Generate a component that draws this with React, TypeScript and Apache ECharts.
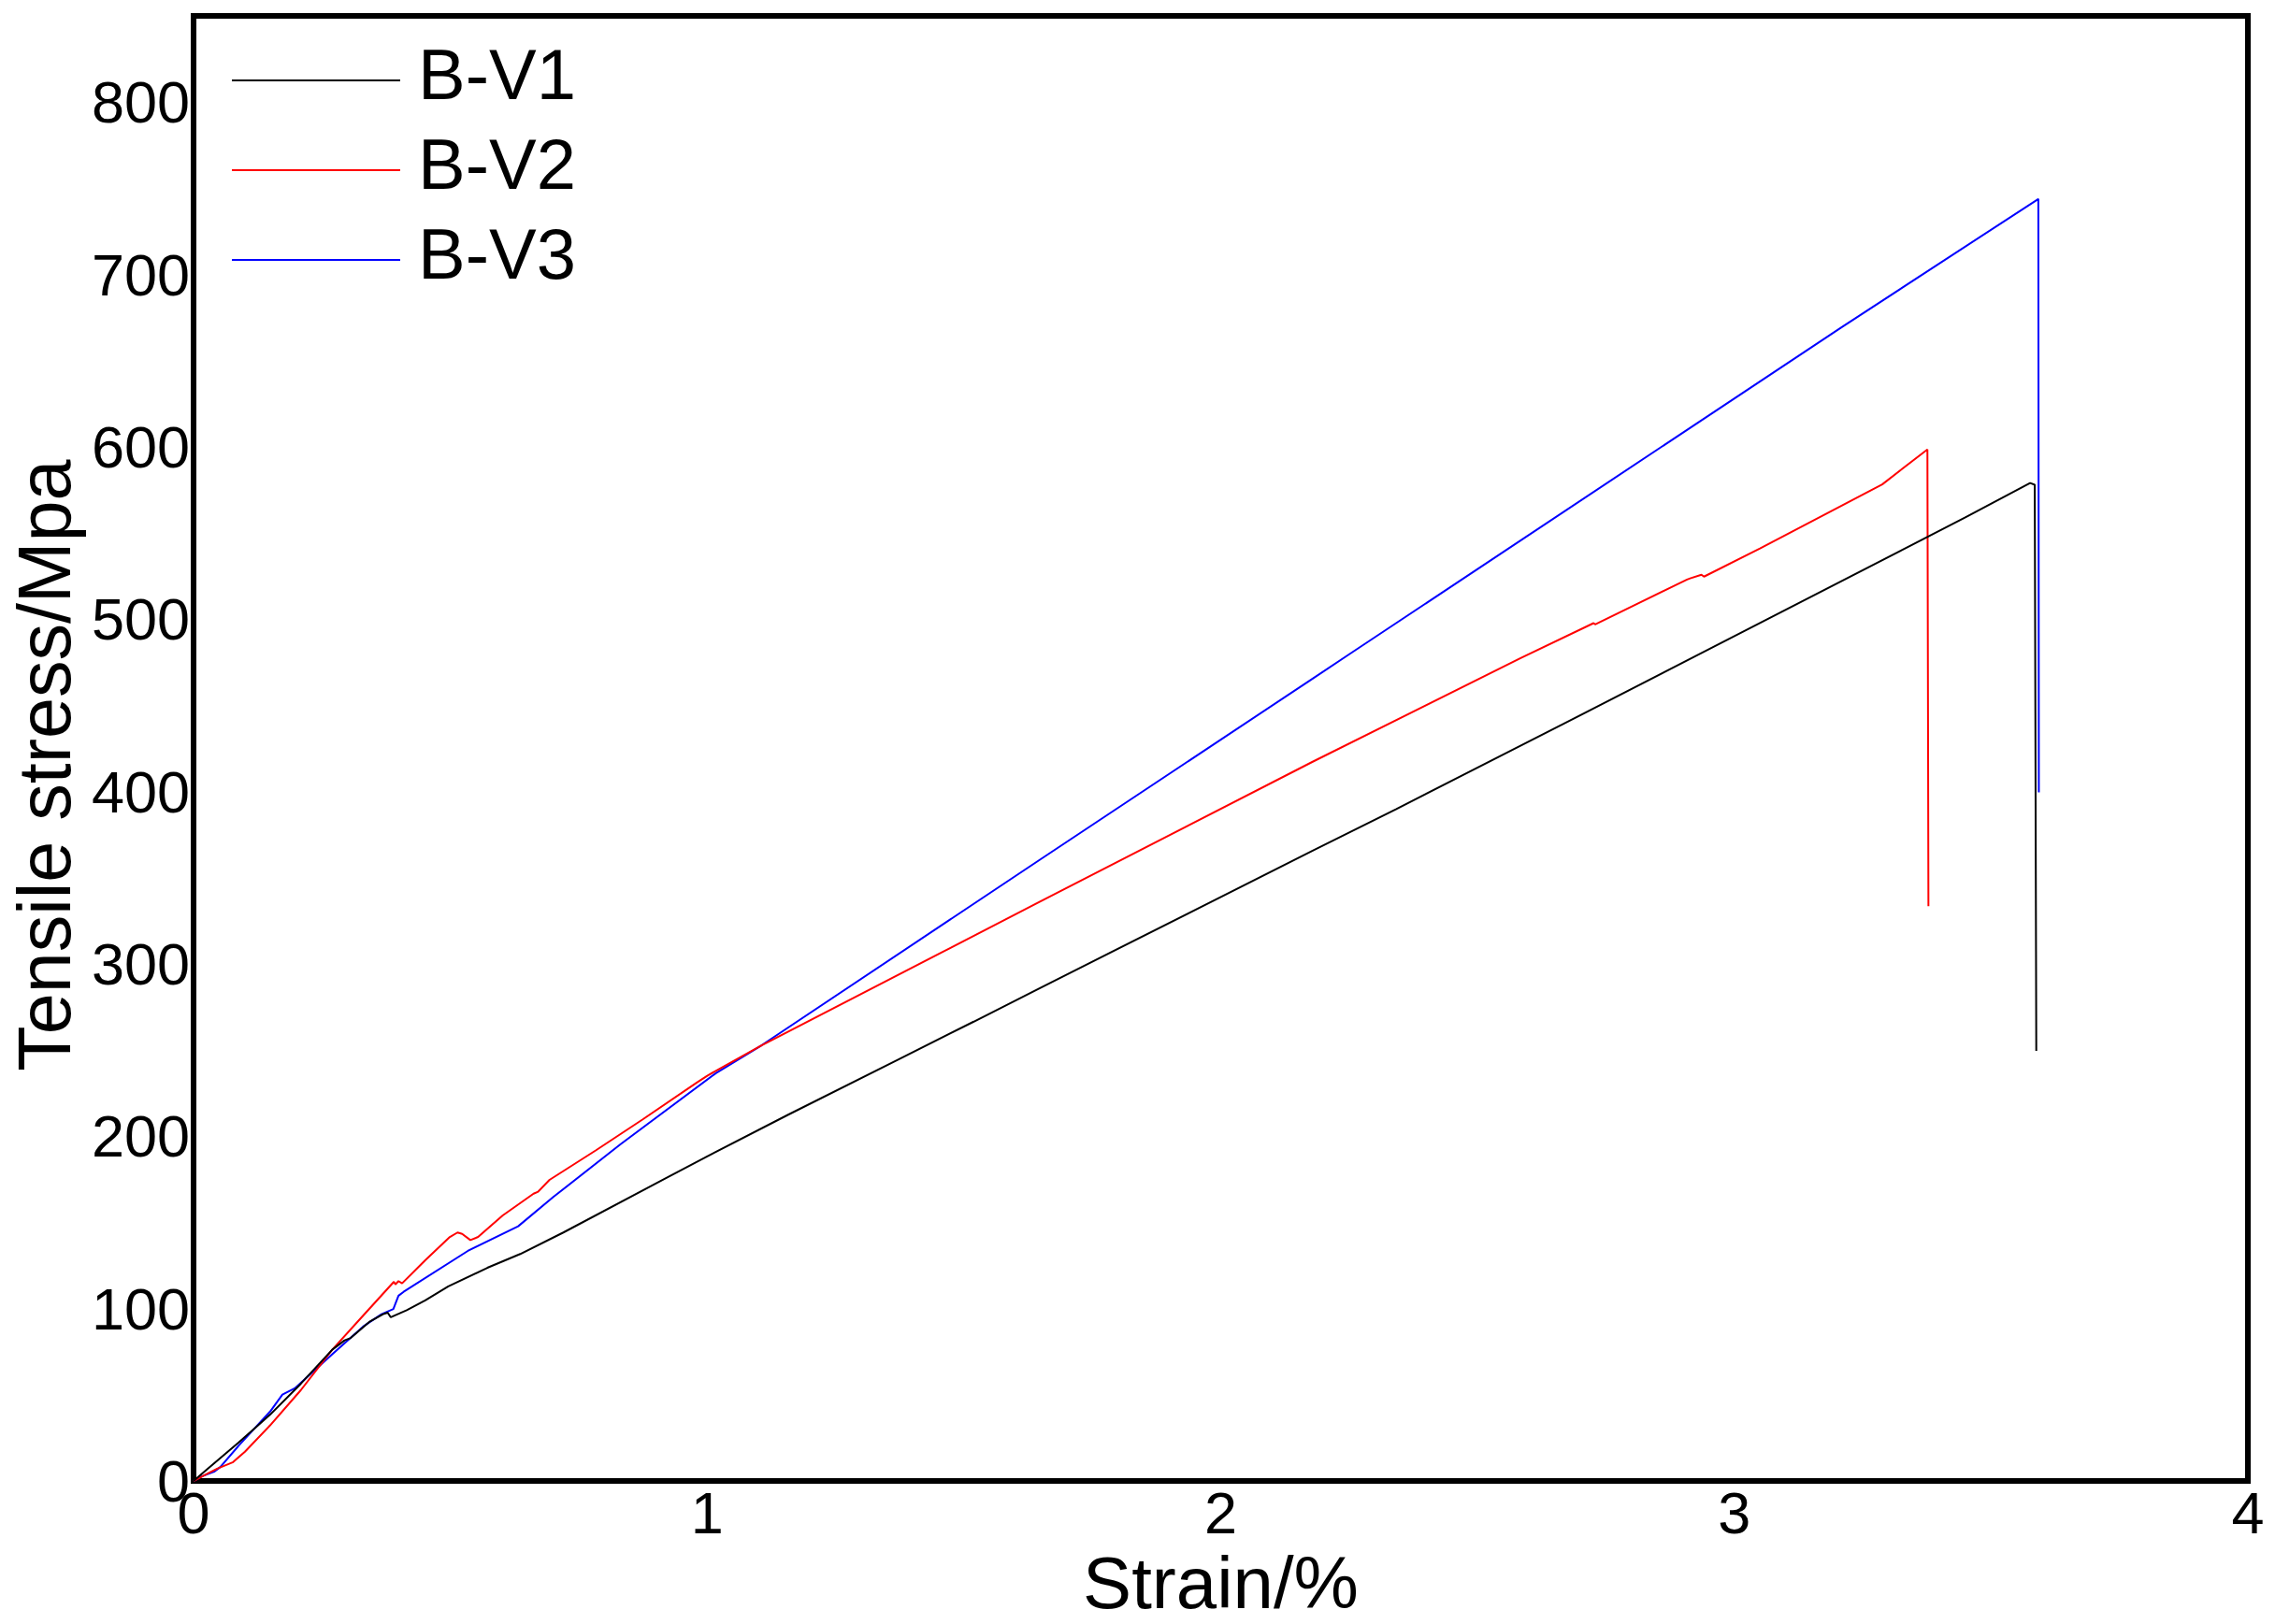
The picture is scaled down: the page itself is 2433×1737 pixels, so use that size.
import React, { useEffect, useRef } from "react";
import * as echarts from "echarts";

const seriesNames = ["B-V1", "B-V2", "B-V3"];
const seriesColors = ["#000000", "#ff0000", "#0000ff"];

const v1Strain = [0, 0.028, 0.088, 0.149, 0.209, 0.27, 0.294, 0.306, 0.342, 0.369, 0.378, 0.384, 0.415, 0.451, 0.496, 0.572, 0.636, 0.72, 0.924, 1.001, 1.157, 1.37, 1.519, 1.648, 2.179, 2.341, 2.665, 2.924, 3.449, 3.576, 3.585, 3.588];
const v1Stress = [0, 7.2, 22.4, 38.5, 56.5, 76.2, 81.6, 83.0, 92.3, 96.8, 97.7, 95.0, 99.1, 104.8, 112.9, 123.7, 131.7, 144.2, 176.4, 188.5, 212.4, 244.2, 266.5, 286, 365.7, 389.7, 438.9, 478.5, 558.9, 579, 578, 249.5];

const v2Strain = [0, 0.028, 0.046, 0.076, 0.1, 0.149, 0.209, 0.27, 0.33, 0.39, 0.393, 0.399, 0.406, 0.451, 0.499, 0.514, 0.523, 0.539, 0.554, 0.602, 0.662, 0.671, 0.693, 0.783, 0.874, 0.98, 1.001, 1.106, 1.648, 2.179, 2.584, 2.726, 2.729, 2.908, 2.914, 2.936, 2.941, 3.05, 3.288, 3.376, 3.378];
const v2Stress = [0, 4.5, 7.2, 10.8, 17, 32.3, 52.8, 76.2, 95.9, 115.6, 114.1, 116, 114.7, 128.1, 141.6, 144.2, 143.4, 139.8, 141.6, 154.1, 166.7, 167.9, 174.7, 191.8, 209.7, 231.2, 235.3, 252.8, 336.1, 417.3, 477.4, 497.7, 497, 523, 523.7, 525.8, 524.7, 541, 578.2, 598.5, 333.5];

const v3Strain = [0, 0.016, 0.04, 0.052, 0.088, 0.149, 0.173, 0.197, 0.27, 0.33, 0.366, 0.389, 0.399, 0.409, 0.534, 0.632, 0.701, 0.831, 1.017, 1.106, 1.648, 2.179, 2.251, 3.208, 3.592, 3.593];
const v3Stress = [0, 2.7, 5.4, 8.1, 20.6, 40.3, 50.2, 53.8, 73.5, 89.6, 96.8, 99.8, 107.5, 109.8, 133.5, 147.8, 164.9, 195.3, 236.6, 252.8, 360.5, 465.5, 479.8, 669.2, 743.8, 399.5];

const xTicks = [0, 1, 2, 3, 4];
const yTicks = [0, 100, 200, 300, 400, 500, 600, 700, 800];

const FONT = "'Liberation Sans', Arial, Helvetica, sans-serif";
// legend icon: thin line at the bottom of a 180x16 box (tiny invisible dot keeps the box height)
const LEGEND_ICON = "path://M0,14h180v2h-180zM0,0h0.05v0.05h-0.05z";

function zip(xs: number[], ys: number[]) {
  return xs.map((x, i) => [x, ys[i]]);
}

export default function App() {
  const ref = useRef<HTMLDivElement>(null);
  useEffect(() => {
    if (!ref.current) return;
    const chart = echarts.init(ref.current, null, { renderer: "svg" });
    const data = [zip(v1Strain, v1Stress), zip(v2Strain, v2Stress), zip(v3Strain, v3Stress)];
    chart.setOption({
      animation: false,
      backgroundColor: "#ffffff",
      grid: {
        show: true,
        left: 197,
        right: 29,
        top: 17,
        bottom: 142,
        borderColor: "#000",
        borderWidth: 6,
        backgroundColor: "transparent",
      },
      legend: {
        orient: "vertical",
        left: 243,
        top: 26,
        icon: LEGEND_ICON,
        itemWidth: 180,
        itemHeight: 16,
        itemGap: 0,
        data: seriesNames,
        textStyle: {
          fontSize: 76,
          lineHeight: 74,
          fontFamily: FONT,
          color: "#000",
          padding: [0, 0, 22, 14],
        },
      },
      xAxis: {
        type: "value",
        min: xTicks[0],
        max: xTicks[xTicks.length - 1],
        interval: 1,
        name: "Strain/%",
        nameLocation: "middle",
        nameGap: 62,
        nameTextStyle: { fontSize: 78, fontFamily: FONT, color: "#000" },
        axisLine: { show: true, lineStyle: { color: "#000", width: 6 } },
        axisTick: { show: false },
        splitLine: { show: false },
        axisLabel: { fontSize: 63, fontFamily: FONT, color: "#000", margin: 2 },
      },
      yAxis: {
        type: "value",
        min: yTicks[0],
        max: 850,
        interval: 100,
        name: "Tensile stress/Mpa",
        nameLocation: "middle",
        nameGap: 110,
        nameTextStyle: { fontSize: 79, fontFamily: FONT, color: "#000", padding: [0, 36, 0, 0] },
        axisLine: { show: true, lineStyle: { color: "#000", width: 6 } },
        axisTick: { show: false },
        splitLine: { show: false },
        axisLabel: {
          fontSize: 63,
          fontFamily: FONT,
          color: "#000",
          margin: 4,
          formatter: (v: number) => (yTicks.indexOf(v) >= 0 ? String(v) : ""),
        },
      },
      series: seriesNames.map((name, i) => ({
        name,
        type: "line",
        data: data[i],
        symbol: "none",
        showSymbol: false,
        color: seriesColors[i],
        lineStyle: { color: seriesColors[i], width: 2 },
        z: 3 - i,
      })),
    });
    return () => chart.dispose();
  }, []);
  return (
    <div
      ref={ref}
      style={{ position: "fixed", left: 0, top: 0, width: 2433, height: 1737, background: "#fff" }}
    />
  );
}
